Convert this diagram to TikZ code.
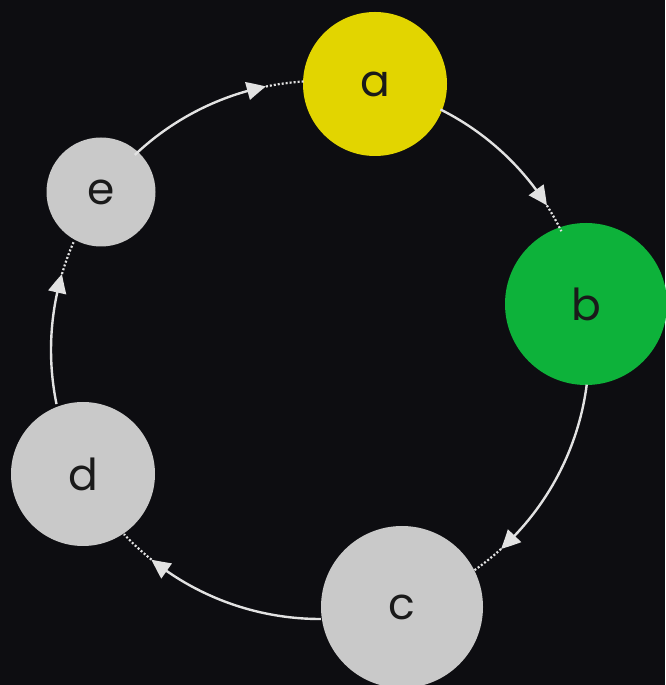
\documentclass[tikz,border=0pt]{standalone}
\usepackage{fontspec}
\setmainfont{Poppins}
\usetikzlibrary{arrows.meta,bending,calc}
\definecolor{bg}{HTML}{0D0D11}
\definecolor{ayel}{HTML}{E2D500}
\definecolor{bgrn}{HTML}{0DB23A}
\definecolor{ngray}{HTML}{C9C9C9}
\definecolor{lnk}{HTML}{E2E2E2}
\definecolor{txt}{HTML}{1A1A1A}
\tikzset{
  circ/.style={circle,inner sep=0pt,text=txt,font=\fontsize{44}{44}\selectfont},
  conn/.style={draw=lnk,line width=2.4pt,-{Triangle[length=19pt,width=18pt,bend]}},
  dotline/.style={draw=lnk,line width=2.2pt,dash pattern=on 2pt off 2pt}
}
\begin{document}
\begin{tikzpicture}[x=1pt,y=1pt]
\fill[bg] (0,0) rectangle (665,685);
\useasboundingbox (0,0) rectangle (665,685);
\coordinate (O) at (320,335);
% nodes
\node[circ,fill=ayel,minimum size=144pt] (a) at (375,601) {a};
\node[circ,fill=bgrn,minimum size=162pt] (b) at (586,381) {b};
\node[circ,fill=ngray,minimum size=162pt] (c) at (402,78) {c};
\node[circ,fill=ngray,minimum size=144pt] (d) at (83,211) {d};
\node[circ,fill=ngray,minimum size=109pt] (e) at (101,493) {e};
% connector points on the big circle
\def\R{269}
\coordinate (ab1) at ($(O)+(63.4:\R)$);
\coordinate (ab2) at ($(O)+(32.5:\R)$);
\coordinate (bc1) at ($(O)+(-7.4:\R)$);
\coordinate (bc2) at ($(O)+(-47.7:\R)$);
\coordinate (cd1) at ($(O)+(-89.8:\R)$);
\coordinate (cd2) at ($(O)+(-128.8:\R)$);
\coordinate (de1) at ($(O)+(-168.4:\R)$);
\coordinate (de2) at ($(O)+(-196.4:\R)$);
\coordinate (ea1) at ($(O)+(133.5:\R)$);
\coordinate (ea2) at ($(O)+(101.6:\R)$);
% solid arcs with arrowheads
\draw[conn] (ab1) arc[start angle=63.4,end angle=32.5,radius=\R];
\draw[conn] (bc1) arc[start angle=-7.4,end angle=-47.7,radius=\R];
\draw[conn] (cd1) arc[start angle=-89.8,end angle=-128.8,radius=\R];
\draw[conn] (de1) arc[start angle=-168.4,end angle=-196.4,radius=\R];
\draw[conn] (ea1) arc[start angle=133.5,end angle=101.6,radius=\R];
% dotted continuations to the next node
\draw[dotline] (ab2) arc[start angle=32.5,end angle=26.2,radius=\R];
\draw[dotline] (bc2) arc[start angle=-47.7,end angle=-55.2,radius=\R];
\draw[dotline] (cd2) arc[start angle=-128.8,end angle=-136.8,radius=\R];
\draw[dotline] (de2) arc[start angle=-196.4,end angle=-203.6,radius=\R];
\draw[dotline] (ea2) arc[start angle=101.6,end angle=93.4,radius=\R];
\end{tikzpicture}
\end{document}
